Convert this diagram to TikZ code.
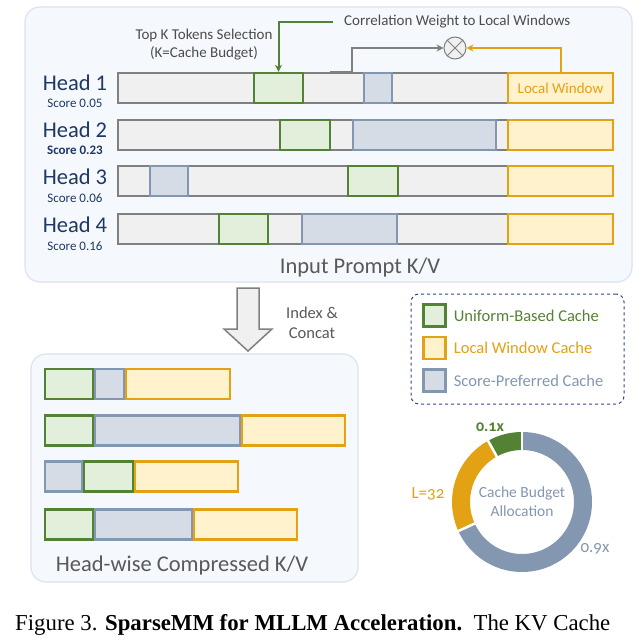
\documentclass[tikz,border=0pt]{standalone}
\usepackage{fontspec}
\setmainfont{Carlito}
\newfontfamily\oldnum{Carlito}[Numbers=OldStyle]
\newfontfamily\capfont{Liberation Serif}
\usepackage{xcolor}
\usepackage{tikz}
\usetikzlibrary{arrows.meta, positioning, calc}
\definecolor{panelFill}{RGB}{245,249,253}
\definecolor{panelLine}{RGB}{218,227,240}
\definecolor{barGray}{RGB}{128,128,128}
\definecolor{barFill}{RGB}{240,240,240}
\definecolor{unifGreen}{RGB}{84,130,53}
\definecolor{unifFill}{RGB}{226,239,218}
\definecolor{localOrange}{RGB}{227,161,20}
\definecolor{localFill}{RGB}{255,242,204}
\definecolor{scoreBlue}{RGB}{132,151,176}
\definecolor{scoreFill}{RGB}{214,220,229}
\definecolor{headBlue}{RGB}{31,56,100}
\definecolor{legendLine}{RGB}{47,72,138}
\definecolor{textGray}{RGB}{89,89,89}

\begin{document}
\begin{tikzpicture}[x=1pt, y=-1pt,
        panel/.style={draw=panelLine, fill=panelFill, line width=1.2pt, rounded corners=15pt},
        cell/.style={draw, line width=2.4pt, minimum height=30, inner sep=0pt},
        tokbar/.style={cell, draw=barGray, fill=barFill, minimum width=495},
        unifcell/.style={cell, draw=unifGreen, fill=unifFill},
        localcell/.style={cell, draw=localOrange, fill=localFill},
        scorecell/.style={cell, draw=scoreBlue, fill=scoreFill},
        headlbl/.style={text=headBlue, font=\fontsize{22.5}{24}\selectfont},
        scorelbl/.style={text=headBlue, font=\fontsize{13}{14}\selectfont},
        note/.style={text=textGray!85!black, font=\fontsize{15}{18}\selectfont, align=center},
        title/.style={text=textGray, font=\fontsize{22.5}{24}\selectfont},
        lgtext/.style={inner sep=0pt, font=\fontsize{16.5}{18}\selectfont},
        pielbl/.style={font=\oldnum\fontsize{17}{18}\selectfont}]
    \useasboundingbox (0,0) rectangle (639,642);
    \fill[white] (0,0) rectangle (639,642);

    % panels
    \node[panel, minimum width=607, minimum height=275] (inpanel) at (328.5,144.5) {};
    \node[panel, minimum width=327, minimum height=228] (outpanel) at (194.5,468) {};
    \node[draw=legendLine, dashed, line width=1pt, rounded corners=8pt, minimum width=213, minimum height=110] (legend) at (517.5,349) {};

    % input prompt K/V
    \node[headlbl] (h1lbl) at (75,83) {Head 1};
    \node[scorelbl] (h1sc) at (75,103) {Score 0.05};
    \node[headlbl] (h2lbl) at (75,130) {Head 2};
    \node[scorelbl, font=\bfseries\fontsize{13}{14}\selectfont] (h2sc) at (75,150) {Score 0.23};
    \node[headlbl] (h3lbl) at (75,177) {Head 3};
    \node[scorelbl] (h3sc) at (75,198) {Score 0.06};
    \node[headlbl] (h4lbl) at (75,225) {Head 4};
    \node[scorelbl] (h4sc) at (75,246) {Score 0.16};

    \node[tokbar] (h1bar) at (365.5,88) {};
    \node[unifcell, minimum width=49] (h1u) at (278.5,88) {};
    \node[scorecell, minimum width=28] (h1s) at (378,88) {};
    \node[localcell, minimum width=105] (h1w) at (560.5,88) {};
    \node[text=localOrange, font=\fontsize{15}{18}\selectfont] (h1wtxt) at (h1w) {Local Window};

    \node[tokbar] (h2bar) at (365.5,135) {};
    \node[unifcell, minimum width=50] (h2u) at (305,135) {};
    \node[scorecell, minimum width=143] (h2s) at (424.5,135) {};
    \node[localcell, minimum width=105] (h2w) at (560.5,135) {};

    \node[tokbar] (h3bar) at (365.5,181) {};
    \node[scorecell, minimum width=38] (h3s) at (169,181) {};
    \node[unifcell, minimum width=50] (h3u) at (373,181) {};
    \node[localcell, minimum width=105] (h3w) at (560.5,181) {};

    \node[tokbar] (h4bar) at (365.5,229) {};
    \node[unifcell, minimum width=49] (h4u) at (243.5,229) {};
    \node[scorecell, minimum width=95] (h4s) at (349.5,229) {};
    \node[localcell, minimum width=105] (h4w) at (560.5,229) {};

    \node[title] (intitle) at (360,267) {Input Prompt K/V};

    % selection and correlation
    \node[note] (topk) at (204,45) {Top K Tokens Selection\\(K=Cache Budget)};
    \node[note, anchor=west, inner sep=0pt] (corr) at (344,22) {Correlation Weight to Local Windows};
    \node[circle, draw=barGray, fill=barFill, line width=1pt, minimum size=22, inner sep=0pt] (otimes) at (455,48) {};
    \draw[barGray, line width=1pt] (otimes.north east) -- (otimes.south west) (otimes.north west) -- (otimes.south east);
    \coordinate (gstart) at (330,72);

    \draw[unifGreen, line width=2pt, -{Stealth[length=7pt, width=7pt]}] ([xshift=-11pt]corr.west) -| (h1u.north);
    \draw[barGray, line width=2pt, -{Stealth[length=7pt, width=7pt]}] (gstart) -- ++(22,0) |- (otimes.west);
    \draw[localOrange, line width=2pt, -{Stealth[length=7pt, width=7pt]}] (h1w.north) |- (otimes.east);

    % index & concat
    \draw[barGray, fill=barFill, line width=1.5pt, line join=miter] (237,288) -- (259,288) -- (259,329) -- (272,329) -- (248,351) -- (224,329) -- (237,329) -- cycle;
    \node[text=textGray, font=\fontsize{16.5}{20}\selectfont, align=center] (concat) at (312,323) {Index \&\\Concat};

    % head-wise compressed K/V
    \node[unifcell, minimum width=48] (c1u) at (69,384) {};
    \node[scorecell, minimum width=29] (c1s) at (109.5,384) {};
    \node[localcell, minimum width=104] (c1w) at (178,384) {};

    \node[unifcell, minimum width=48] (c2u) at (69,430.5) {};
    \node[scorecell, minimum width=145] (c2s) at (167.5,430.5) {};
    \node[localcell, minimum width=103] (c2w) at (293.5,430.5) {};

    \node[scorecell, minimum width=37] (c3s) at (63.5,476.5) {};
    \node[unifcell, minimum width=49] (c3u) at (108.5,476.5) {};
    \node[localcell, minimum width=103] (c3w) at (186.5,476.5) {};

    \node[unifcell, minimum width=48] (c4u) at (69,524.5) {};
    \node[scorecell, minimum width=97] (c4s) at (143.5,524.5) {};
    \node[localcell, minimum width=103] (c4w) at (245.5,524.5) {};

    \node[title] (outtitle) at (182,565) {Head-wise Compressed K/V};

    % legend
    \node[unifcell, minimum width=22, minimum height=22] (lgu) at (434.5,315.5) {};
    \node[lgtext, text=unifGreen, right=7pt of lgu] (lgutxt) {Uniform-Based Cache};
    \node[localcell, minimum width=22, minimum height=22] (lgw) at (434.5,348) {};
    \node[lgtext, text=localOrange, right=7pt of lgw] (lgwtxt) {Local Window Cache};
    \node[scorecell, minimum width=22, minimum height=22] (lgs) at (434.5,380.5) {};
    \node[lgtext, text=scoreBlue, right=7pt of lgs] (lgstxt) {Score-Preferred Cache};

    % cache budget allocation
    \node[text=scoreBlue, font=\fontsize{15.5}{19}\selectfont, align=center] (donut) at (522,502) {Cache Budget\\Allocation};
    \draw[scoreBlue, line width=18pt] (donut.center) ++(-90:61) arc[start angle=-90, end angle=155.5, radius=61];
    \draw[localOrange, line width=18pt] (donut.center) ++(-204.5:61) arc[start angle=-204.5, end angle=-119, radius=61];
    \draw[unifGreen, line width=18pt] (donut.center) ++(-119:61) arc[start angle=-119, end angle=-90, radius=61];
    \foreach \a in {-90,-119,-204.5}
        \draw[white, line width=2.5pt] (donut.center) ++(\a:50) -- ++(\a:22);
    \node[pielbl, text=unifGreen, font=\oldnum\bfseries\fontsize{16}{18}\selectfont] (pgreen) at (490,427) {0.1x};
    \node[pielbl, text=localOrange] (porange) at (428,494) {L=32};
    \node[pielbl, text=scoreBlue] (pgray) at (595,549) {0.9x};

    % caption
    \node[anchor=west, inner sep=0pt, font=\capfont\fontsize{22.8}{26}\selectfont] (caption) at (15,625) {Figure 3. \textbf{SparseMM for MLLM Acceleration.}\ \ The KV Cache};
\end{tikzpicture}
\end{document}
